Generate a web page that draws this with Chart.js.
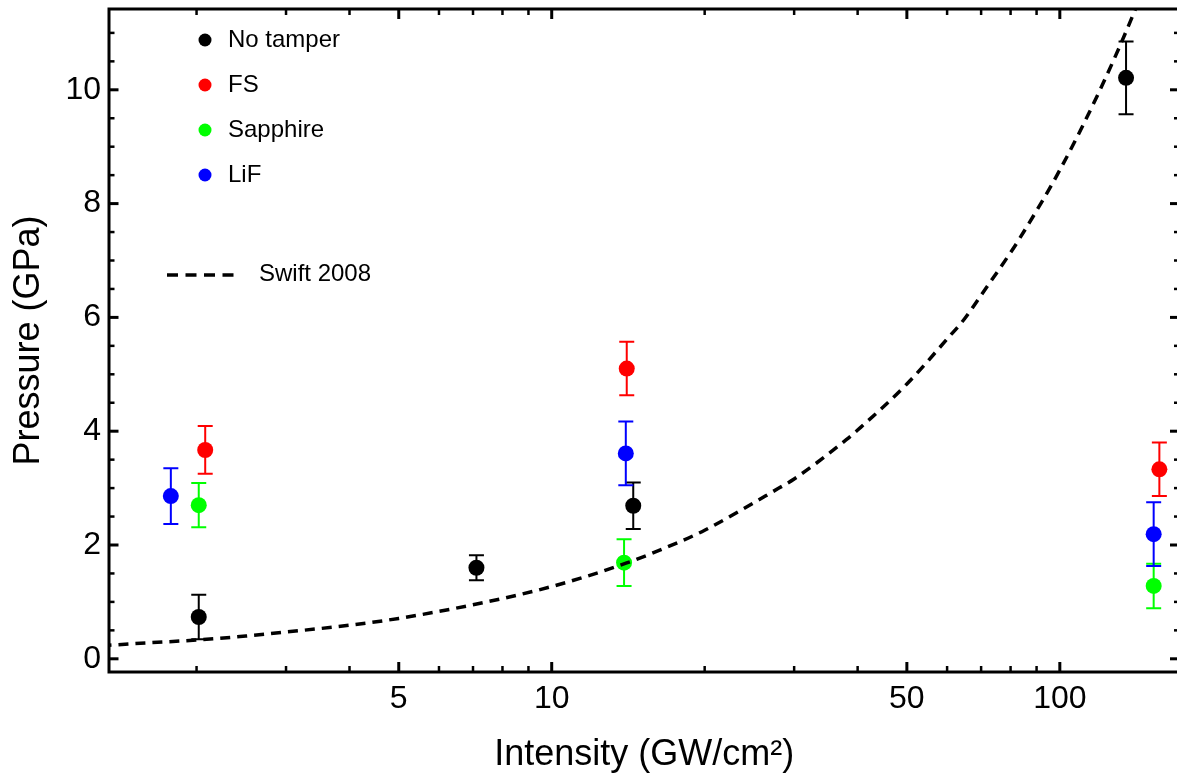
<!DOCTYPE html>
<html>
<head>
<meta charset="utf-8">
<script src="https://cdn.jsdelivr.net/npm/chart.js@4.4.1/dist/chart.umd.min.js"></script>
<style>
  html, body { margin: 0; padding: 0; background: #fff; overflow: hidden; }
  #wrap { width: 1177px; height: 774px; overflow: hidden; position: relative; }
  canvas { display: block; }
</style>
</head>
<body>
<div id="wrap"><canvas id="c" width="1182" height="774"></canvas></div>
<script>
// Peak pressure (GPa) versus laser intensity (GW/cm^2), with symmetric error bars
const noTamperI   = [2.02, 7.11, 14.47, 135];
const noTamperP   = [0.735, 1.60, 2.69, 10.21];
const noTamperErr = [0.39, 0.22, 0.41, 0.64];

const fsI   = [2.08, 14.05, 157];
const fsP   = [3.67, 5.10, 3.33];
const fsErr = [0.42, 0.47, 0.47];

const sapphireI   = [2.02, 13.88, 153];
const sapphireP   = [2.70, 1.69, 1.28];
const sapphireErr = [0.39, 0.41, 0.39];

const lifI   = [1.78, 13.99, 153];
const lifP   = [2.86, 3.61, 2.19];
const lifErr = [0.49, 0.56, 0.56];

// Swift 2008 model curve
const swiftI = [1.3, 1.6, 2, 2.5, 3, 4, 5, 7, 10, 14, 18, 20, 28, 30, 38, 40, 50, 60, 65, 70, 80, 83, 100, 120, 140, 160];
const swiftP = [0.23, 0.28, 0.33, 0.40, 0.47, 0.59, 0.71, 0.95, 1.27, 1.68, 2.07, 2.26, 3.0, 3.16, 3.85, 4.02, 4.83, 5.62, 5.98, 6.39, 7.14, 7.36, 8.59, 10.0, 11.36, 12.7];

// Axis ticks
const xMajorTicks = [5, 10, 50, 100];
const xMinorTicks = [2, 3, 4, 6, 7, 8, 9, 20, 30, 40, 60, 70, 80, 90];
const yMajorTicks = [0, 2, 4, 6, 8, 10];
const yMinorTicks = [0.5, 1, 1.5, 2.5, 3, 3.5, 4.5, 5, 5.5, 6.5, 7, 7.5, 8.5, 9, 9.5, 10.5, 11];

const legendLabels = ['No tamper', 'FS', 'Sapphire', 'LiF'];
const curveLabel = 'Swift 2008';
const seriesColors = ['#000000', '#ff0000', '#00ff00', '#0000ff'];

const FONT = '"Liberation Sans", Arial, sans-serif';

const pts = (xs, ys) => xs.map((v, i) => ({ x: v, y: ys[i] }));

const seriesErr = [noTamperErr, fsErr, sapphireErr, lifErr];

const datasets = [
  {
    label: curveLabel,
    data: pts(swiftI, swiftP),
    showLine: true,
    borderColor: '#000',
    borderWidth: 3.5,
    borderDash: [10, 7],
    pointRadius: 0,
    cubicInterpolationMode: 'monotone',
    order: 0
  }
];
[[noTamperI, noTamperP], [fsI, fsP], [sapphireI, sapphireP], [lifI, lifP]].forEach((s, k) => {
  datasets.push({
    label: legendLabels[k],
    data: pts(s[0], s[1]),
    errors: seriesErr[k],
    backgroundColor: seriesColors[k],
    borderColor: seriesColors[k],
    borderWidth: 0,
    pointRadius: 8,
    showLine: false,
    order: 1
  });
});

// Vertical error bars with caps, drawn beneath the markers
const errorBars = {
  id: 'errorBars',
  beforeDatasetsDraw(chart) {
    const { ctx, scales: { x, y } } = chart;
    ctx.save();
    chart.data.datasets.forEach(ds => {
      if (!ds.errors) return;
      ctx.strokeStyle = ds.borderColor;
      ctx.lineWidth = 2;
      ds.data.forEach((p, i) => {
        const e = ds.errors[i];
        const px = x.getPixelForValue(p.x);
        const yt = y.getPixelForValue(p.y + e);
        const yb = y.getPixelForValue(p.y - e);
        ctx.beginPath();
        ctx.moveTo(px, yt); ctx.lineTo(px, yb);
        ctx.moveTo(px - 7.5, yt); ctx.lineTo(px + 7.5, yt);
        ctx.moveTo(px - 7.5, yb); ctx.lineTo(px + 7.5, yb);
        ctx.stroke();
      });
    });
    ctx.restore();
  }
};

// Boxed frame with inward ticks on all four sides, plus the inset legend
const frame = {
  id: 'frame',
  afterDraw(chart) {
    const { ctx, chartArea: a, scales: { x, y } } = chart;
    ctx.save();
    ctx.strokeStyle = '#000';
    ctx.lineCap = 'butt';
    const seg = (x1, y1, x2, y2, w) => {
      ctx.lineWidth = w;
      ctx.beginPath(); ctx.moveTo(x1, y1); ctx.lineTo(x2, y2); ctx.stroke();
    };
    xMajorTicks.forEach(v => {
      const p = x.getPixelForValue(v);
      seg(p, a.bottom, p, a.bottom - 10, 3);
      seg(p, a.top, p, a.top + 10, 3);
    });
    xMinorTicks.forEach(v => {
      const p = x.getPixelForValue(v);
      seg(p, a.bottom, p, a.bottom - 6, 2.5);
      seg(p, a.top, p, a.top + 6, 2.5);
    });
    yMajorTicks.forEach(v => {
      const p = y.getPixelForValue(v);
      seg(a.left, p, a.left + 9.5, p, 3);
      seg(a.right, p, a.right - 9.5, p, 3);
    });
    yMinorTicks.forEach(v => {
      const p = y.getPixelForValue(v);
      seg(a.left, p, a.left + 5.5, p, 2.5);
      seg(a.right, p, a.right - 5.5, p, 2.5);
    });
    ctx.lineWidth = 3;
    ctx.strokeRect(a.left, a.top, a.right - a.left, a.bottom - a.top);

    // legend
    const lx = a.left + 96, tx = a.left + 119;
    ctx.font = '24px ' + FONT;
    ctx.textBaseline = 'alphabetic';
    ctx.textAlign = 'left';
    legendLabels.forEach((t, k) => {
      const ly = a.top + 31 + k * 45;
      ctx.fillStyle = seriesColors[k];
      ctx.beginPath(); ctx.arc(lx, ly, 6.5, 0, Math.PI * 2); ctx.fill();
      ctx.fillStyle = '#000';
      ctx.fillText(t, tx, ly + 7);
    });
    const cy = a.top + 266;
    ctx.setLineDash([11, 7.5]);
    seg(a.left + 58, cy, a.left + 131, cy, 3.5);
    ctx.setLineDash([]);
    ctx.fillStyle = '#000';
    ctx.fillText(curveLabel, a.left + 150, cy + 6);
    ctx.restore();
  }
};

// fixed scale boxes, no automatic edge padding from tick labels
const fixBox = size => s => {
  if (s.isHorizontal()) s.height = size; else s.width = size;
  s.paddingTop = 0; s.paddingBottom = 0; s.paddingLeft = 0; s.paddingRight = 0;
};

new Chart(document.getElementById('c'), {
  type: 'scatter',
  data: { datasets },
  options: {
    responsive: false,
    animation: false,
    devicePixelRatio: 1,
    events: [],
    // the right-hand frame edge sits just past the visible edge
    layout: { autoPadding: false, padding: { top: 9, right: 2.5, bottom: 0, left: 0 } },
    plugins: { legend: { display: false }, tooltip: { enabled: false } },
    scales: {
      x: {
        type: 'logarithmic',
        min: 1.345,
        max: 172,
        grid: { display: false, drawTicks: false },
        border: { display: false },
        afterBuildTicks: s => { s.ticks = xMajorTicks.map(v => ({ value: v })); },
        afterFit: fixBox(102),
        ticks: {
          color: '#000',
          padding: 8,
          maxRotation: 0,
          autoSkip: false,
          font: { family: FONT, size: 32 },
          callback: v => String(v)
        },
        title: {
          display: true,
          text: 'Intensity (GW/cm²)',
          color: '#000',
          font: { family: FONT, size: 36, lineHeight: 1 },
          padding: { top: 0, bottom: 1 }
        }
      },
      y: {
        type: 'linear',
        min: -0.232,
        max: 11.42,
        grid: { display: false, drawTicks: false },
        border: { display: false },
        afterBuildTicks: s => { s.ticks = yMajorTicks.map(v => ({ value: v })); },
        afterFit: fixBox(109),
        ticks: {
          color: '#000',
          padding: 8,
          font: { family: FONT, size: 32 },
          callback: v => String(v)
        },
        title: {
          display: true,
          text: 'Pressure (GPa)',
          color: '#000',
          font: { family: FONT, size: 36, lineHeight: 1 },
          padding: { top: 11, bottom: 0 }
        }
      }
    }
  },
  plugins: [errorBars, frame]
});
</script>
</body>
</html>
